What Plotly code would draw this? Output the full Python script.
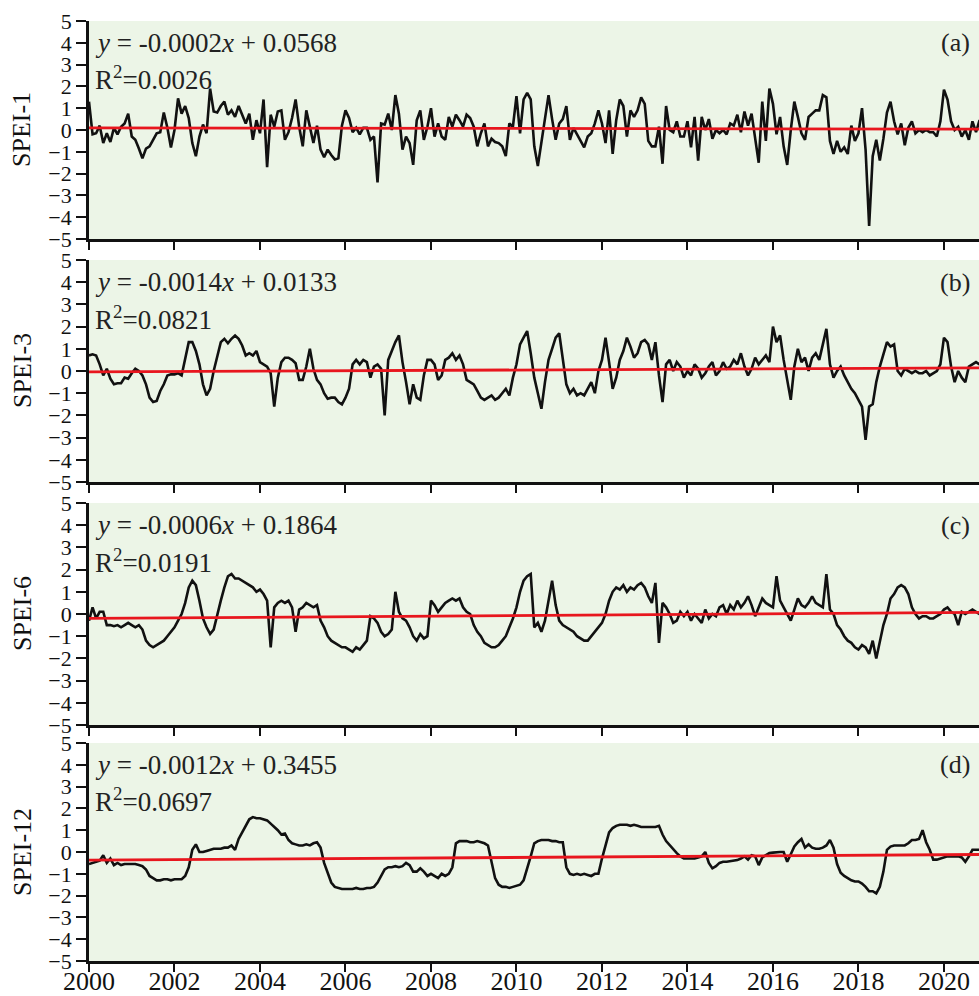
import numpy as np
import plotly.graph_objects as go

# Monthly SPEI series, January 2000 - December 2020
spei1 = [
    1.3, -0.2, -0.15, 0.2, -0.6, -0.15, -0.55, 0.1, -0.2, 0.15, 0.3, 0.75,
    -0.3, -0.45, -0.85, -1.3, -0.85, -0.75, -0.45, -0.15, -0.1, 0.8, 0.1, -0.8,
    0.0, 1.45, 0.75, 1.1, 0.55, -0.6, -1.2, -0.3, 0.25, -0.15, 1.9, 0.85,
    0.8, 1.1, 1.3, 0.7, 0.9, 0.6, 1.1, 0.7, 0.3, 0.75, -0.45, 0.45,
    -0.15, 1.4, -1.7, 0.7, 0.15, 0.85, 0.9, -0.45, -0.1, 0.55, 1.4, 0.15,
    -0.75, 0.9, 0.15, -0.6, 0.2, -0.9, -1.25, -0.9, -1.15, -1.35, -1.3, 0.2,
    0.9, 0.55, -0.1, 0.1, -0.2, 0.1, 0.1, -0.45, -0.3, -2.4, 0.3, 0.25,
    0.75, 0.0, 1.6, 0.75, -0.9, -0.3, -0.6, -1.6, 0.45, 0.9, -0.45, 0.15,
    1.0, -0.3, 0.3, -0.3, -0.45, 0.6, 0.15, 0.7, 0.45, 0.15, 0.7, 0.55,
    0.15, -0.75, -0.15, 0.3, -0.75, -0.4, -0.55, -0.6, -0.75, -1.2, 0.3, 0.15,
    1.55, -0.15, 1.4, 1.7, 1.4, -0.75, -1.65, -0.5, 0.45, 1.6, 0.5, -0.45,
    0.3, 0.5, 1.1, -0.45, 0.1, -0.2, -0.45, -0.8, -0.3, -0.15, 0.3, 0.9,
    0.3, -0.6, 0.9, -1.1, 0.45, 1.4, 1.1, -0.3, 0.9, 0.6, 0.9, 1.5,
    1.2, -0.5, -0.75, -0.75, 0.15, -1.55, 1.1, 0.0, -0.1, 0.4, -0.3, -0.3,
    0.4, -0.8, 0.6, -1.4, 0.6, 0.0, 0.5, -0.4, 0.0, -0.15, 0.0, -0.2,
    0.3, 0.2, 0.7, -0.1, 0.85, 0.2, 0.75, -0.45, -1.5, 1.3, -0.5, 1.9,
    1.2, -0.2, 0.6, -0.75, -1.6, 0.0, 1.3, 0.6, -0.15, -0.45, 0.6, 0.75,
    0.9, 0.9, 1.6, 1.5, -0.5, -1.1, -0.5, -1.0, -0.8, -1.1, 0.2, -0.5,
    -0.15, 1.0, -0.9, -4.4, -1.2, -0.45, -1.4, -0.4, 0.8, 1.3, 0.4, -0.2,
    0.3, -0.7, 0.1, 0.4, -0.15, 0.0, -0.1, 0.0, -0.1, -0.1, -0.3, 0.4,
    1.85, 1.4, 0.4, 0.0, 0.15, -0.3, 0.0, -0.45, 0.4, -0.1, 0.45, 0.2,
]

spei3 = [
    0.7, 0.75, 0.7, 0.3, -0.2, 0.1, -0.35, -0.6, -0.55, -0.55, -0.3, -0.35,
    -0.1, 0.1, 0.0, -0.2, -0.6, -1.2, -1.4, -1.35, -0.9, -0.6, -0.2, -0.15,
    -0.15, -0.1, -0.2, 0.5, 1.3, 1.3, 0.9, 0.3, -0.6, -1.1, -0.8, 0.0,
    0.6, 1.3, 1.45, 1.25, 1.45, 1.6, 1.45, 1.15, 0.7, 0.8, 0.7, 0.9,
    0.4, 0.3, 0.2, -0.1, -1.6, -0.3, 0.4, 0.6, 0.6, 0.5, 0.35, -0.4,
    -0.4, 0.2, 1.0, 0.1, -0.4, -0.6, -1.0, -1.25, -1.2, -1.2, -1.4, -1.5,
    -1.2, -0.8, 0.3, 0.5, 0.3, 0.5, 0.4, -0.3, 0.2, 0.3, 0.1, -2.0,
    0.5, 0.9, 1.3, 1.6, 0.4, -0.5, -1.5, -0.6, -1.2, -1.3, -0.2, 0.5,
    0.5, 0.3, -0.4, -0.2, 0.5, 0.6, 0.8, 0.5, 0.7, 0.3, -0.4, -0.5,
    -0.6, -0.9, -1.2, -1.3, -1.2, -1.1, -1.3, -1.2, -1.0, -0.8, -1.1, -0.3,
    0.3, 1.2, 1.5, 1.8, 0.8, -0.3, -1.0, -1.7, -0.5, 0.5, 1.0, 1.5,
    1.7, 0.5, -0.6, -1.0, -0.8, -1.1, -1.0, -1.1, -0.8, -0.5, -1.0, 0.0,
    0.5, 1.5, 0.4, -0.8, -0.3, 0.5, 0.9, 1.5, 1.1, 0.6, 0.8, 1.3,
    1.4, 1.2, 0.5, 1.3, -0.2, -1.4, 0.3, 0.5, 0.0, 0.4, 0.2, -0.3,
    0.0, -0.2, 0.3, 0.1, -0.3, -0.1, 0.2, 0.4, -0.2, 0.0, 0.4, 0.1,
    0.2, 0.5, 0.3, 0.8, 0.2, -0.2, 0.1, 0.6, 0.3, 0.5, 0.7, 0.4,
    2.0, 1.3, 1.6, 0.5, -0.5, -1.3, 0.2, 1.0, 0.4, 0.6, 0.0, 0.6,
    0.8, 0.5, 1.2, 1.9, 0.3, -0.3, 0.0, 0.2, -0.2, -0.5, -0.8, -1.0,
    -1.3, -1.6, -3.1, -1.6, -1.5, -0.5, 0.2, 0.8, 1.3, 1.1, 1.2, 0.0,
    -0.2, 0.1, 0.0, -0.1, 0.0, -0.1, -0.1, 0.0, -0.2, -0.1, 0.0, 0.3,
    1.5, 1.3, 0.2, -0.5, 0.0, -0.3, -0.5, 0.2, 0.3, 0.4, 0.3, 0.2,
]

spei6 = [
    -0.3, 0.3, -0.2, 0.1, 0.1, -0.5, -0.5, -0.55, -0.5, -0.6, -0.5, -0.4,
    -0.5, -0.6, -0.5, -0.7, -1.2, -1.4, -1.5, -1.4, -1.3, -1.2, -1.0, -0.8,
    -0.6, -0.3, 0.0, 0.5, 1.2, 1.5, 1.3, 0.6, -0.2, -0.6, -0.9, -0.7,
    0.0, 0.6, 1.2, 1.7, 1.8, 1.6, 1.6, 1.5, 1.4, 1.3, 1.2, 1.0,
    1.1, 0.9, 0.6, -1.5, 0.3, 0.5, 0.6, 0.5, 0.6, 0.3, -0.8, 0.2,
    0.3, 0.5, 0.4, 0.3, 0.4, -0.3, -0.6, -1.0, -1.2, -1.3, -1.4, -1.5,
    -1.5, -1.6, -1.7, -1.5, -1.6, -1.4, -1.2, -0.1, -0.2, -0.4, -0.8, -1.0,
    -0.9, -0.7, 1.0, 0.1, -0.2, -0.3, -0.6, -1.0, -1.2, -0.9, -1.1, -1.0,
    0.6, 0.4, 0.1, 0.3, 0.5, 0.6, 0.7, 0.6, 0.7, 0.3, 0.1, 0.0,
    -0.5, -0.8, -1.0, -1.3, -1.4, -1.5, -1.5, -1.4, -1.2, -1.0, -0.6, -0.2,
    0.3, 1.0, 1.5, 1.7, 1.8, -0.6, -0.4, -0.8, -0.3, 0.6, 1.5, 0.4,
    -0.3, -0.5, -0.6, -0.7, -0.8, -1.0, -1.1, -1.2, -1.2, -1.0, -0.8, -0.6,
    -0.4, 0.0, 0.6, 1.0, 1.2, 1.1, 1.3, 1.0, 1.2, 1.1, 1.3, 1.4,
    1.2, 0.8, 0.5, 1.4, -1.3, 0.5, 0.3, 0.0, -0.4, -0.3, 0.1, -0.1,
    0.1, -0.3, 0.0, -0.2, -0.4, 0.2, -0.2, 0.0, -0.1, 0.3, 0.4, 0.0,
    0.4, 0.2, 0.6, 0.3, 0.5, 0.8, 0.4, -0.1, 0.3, 0.7, 0.5, 0.4,
    0.3, 1.7, 0.6, 0.3, 0.0, -0.3, 0.2, 0.7, 0.4, 0.3, 0.5, 0.8,
    0.5, 0.4, 0.3, 1.8, 0.2, 0.0, -0.5, -0.7, -1.0, -1.2, -1.3, -1.5,
    -1.6, -1.4, -1.5, -1.8, -1.2, -2.0, -1.3, -0.5, 0.0, 0.7, 0.9, 1.2,
    1.3, 1.2, 0.9, 0.3, 0.0, -0.2, -0.1, -0.1, -0.2, -0.2, -0.1, 0.0,
    0.2, 0.3, 0.1, 0.0, -0.5, 0.1, 0.0, 0.1, 0.2, 0.1, 0.0, 0.1,
]

spei12 = [
    -0.55, -0.5, -0.45, -0.4, -0.15, -0.5, -0.3, -0.6, -0.5, -0.6, -0.55, -0.55,
    -0.55, -0.55, -0.6, -0.65, -0.8, -1.1, -1.2, -1.3, -1.3, -1.25, -1.25, -1.3,
    -1.25, -1.25, -1.25, -1.1, -0.7, 0.1, 0.35, 0.0, 0.0, 0.05, 0.1, 0.15,
    0.15, 0.15, 0.2, 0.2, 0.3, 0.1, 0.6, 0.9, 1.2, 1.5, 1.6, 1.55,
    1.55, 1.5, 1.45, 1.3, 1.15, 1.0, 0.8, 0.85, 0.55, 0.4, 0.35, 0.3,
    0.3, 0.35, 0.3, 0.4, 0.45, 0.2, -0.5, -1.0, -1.4, -1.6, -1.65, -1.7,
    -1.7, -1.7, -1.7, -1.65, -1.7, -1.7, -1.65, -1.65, -1.6, -1.4, -1.1, -0.8,
    -0.7, -0.7, -0.65, -0.7, -0.65, -0.5, -0.6, -0.9, -0.9, -0.75, -0.9, -1.1,
    -1.0, -1.1, -1.2, -1.0, -1.1, -1.0, -0.7, 0.4, 0.5, 0.5, 0.5, 0.45,
    0.45, 0.5, 0.45, 0.4, 0.3, -0.4, -1.2, -1.5, -1.6, -1.6, -1.65, -1.6,
    -1.55, -1.5, -1.3, -0.8, -0.2, 0.4, 0.5, 0.55, 0.55, 0.55, 0.5, 0.5,
    0.45, 0.45, -0.7, -1.0, -1.05, -1.0, -1.05, -1.0, -1.05, -1.1, -1.0, -1.0,
    -0.3, 0.3, 0.9, 1.1, 1.2, 1.25, 1.25, 1.25, 1.2, 1.25, 1.2, 1.15,
    1.15, 1.15, 1.15, 1.15, 1.2, 0.8, 0.5, 0.3, 0.1, -0.05, -0.2, -0.3,
    -0.3, -0.3, -0.3, -0.25, -0.2, 0.0, -0.5, -0.75, -0.65, -0.5, -0.45, -0.45,
    -0.42, -0.4, -0.37, -0.3, -0.2, -0.35, -0.15, -0.2, -0.6, -0.25, -0.15, -0.05,
    -0.03, 0.0, 0.0, 0.0, -0.45, -0.1, 0.25, 0.45, 0.6, 0.2, 0.35, 0.2,
    0.15, 0.15, 0.2, 0.3, 0.55, 0.2, -0.55, -0.95, -1.1, -1.2, -1.3, -1.35,
    -1.35, -1.45, -1.6, -1.8, -1.8, -1.9, -1.6, -0.9, 0.1, 0.25, 0.3, 0.3,
    0.3, 0.3, 0.4, 0.55, 0.55, 0.6, 1.0, 0.45, 0.1, -0.35, -0.35, -0.3,
    -0.25, -0.2, -0.2, -0.2, -0.2, -0.25, -0.45, -0.2, 0.1, 0.1, 0.1, 0.05,
]

series = [spei1, spei3, spei6, spei12]
axis_titles = ["SPEI-1", "SPEI-3", "SPEI-6", "SPEI-12"]
panel_tags = ["(a)", "(b)", "(c)", "(d)"]
equations = [
    "<i>y</i> = -0.0002<i>x</i> + 0.0568",
    "<i>y</i> = -0.0014<i>x</i> + 0.0133",
    "<i>y</i> = -0.0006<i>x</i> + 0.1864",
    "<i>y</i> = -0.0012<i>x</i> + 0.3455",
]
r_squared = ["0.0026", "0.0821", "0.0191", "0.0697"]
year_ticks = list(range(2000, 2022, 2))

START_YEAR = 2000
x_months = START_YEAR + np.arange(len(spei1)) / 12.0
x_range = [2000, 2020.82]

FONT = "Times New Roman, Liberation Serif, serif"
INK = "#111111"
BG = "rgb(236,245,231)"
W, H = 979, 996
M_L, M_R, M_T, M_B = 89, 0, 21, 35
plot_h = H - M_T - M_B

# panel top/bottom edges in pixels
panel_px = [(21, 239), (260, 482), (503, 725), (743, 961)]
domains = [[(H - M_B - b) / plot_h, (H - M_B - t) / plot_h] for t, b in panel_px]

fig = go.Figure()
layout = dict(
    width=W, height=H, autosize=False,
    margin=dict(l=M_L, r=M_R, t=M_T, b=M_B, autoexpand=False),
    paper_bgcolor="white",
    plot_bgcolor=BG,
    showlegend=False,
    font=dict(family=FONT, color=INK),
)
annotations = []

for i, (vals, title, tag, eq, r2) in enumerate(
        zip(series, axis_titles, panel_tags, equations, r_squared)):
    n = i + 1
    xa, ya = f"x{n}" if n > 1 else "x", f"y{n}" if n > 1 else "y"
    y = np.array(vals)

    fig.add_trace(go.Scatter(
        x=x_months, y=y, mode="lines", xaxis=xa, yaxis=ya,
        line=dict(color=INK, width=2.6), hoverinfo="skip"))

    slope, intercept = np.polyfit(x_months, y, 1)
    xt_line = np.array(x_range)
    fig.add_trace(go.Scatter(
        x=xt_line, y=slope * xt_line + intercept, mode="lines",
        xaxis=xa, yaxis=ya, line=dict(color="#e8161e", width=2.8),
        hoverinfo="skip"))

    xkey = "xaxis" if n == 1 else f"xaxis{n}"
    ykey = "yaxis" if n == 1 else f"yaxis{n}"
    layout[xkey] = dict(
        domain=[0, 1], anchor=ya, range=x_range, automargin=False,
        tickmode="array", tickvals=year_ticks,
        ticktext=[str(v) for v in year_ticks],
        showticklabels=(n == 4), ticklabelstandoff=-13,
        ticks="outside", ticklen=8, tickwidth=2.4, tickcolor=INK,
        showline=True, linewidth=2.8, linecolor=INK,
        showgrid=False, zeroline=False,
        tickfont=dict(family=FONT, size=26, color=INK),
    )
    # top edge: inward ticks
    layout[f"xaxis{n + 4}"] = dict(
        overlaying=xa, anchor=ya, side="top", range=x_range, automargin=False,
        tickmode="array", tickvals=year_ticks, showticklabels=False,
        ticks="inside", ticklen=8, tickwidth=2.4, tickcolor=INK,
        showline=True, linewidth=2.8, linecolor=INK,
        showgrid=False, zeroline=False,
    )
    layout[ykey] = dict(
        domain=domains[i], anchor=xa, range=[-5, 5], automargin=False,
        tickmode="array", tickvals=list(range(-5, 6)),
        ticks="outside", ticklen=10, tickwidth=2.4, tickcolor=INK,
        showline=True, linewidth=2.8, linecolor=INK,
        showgrid=False, zeroline=False,
        tickfont=dict(family=FONT, size=22, color=INK),
    )
    # right edge: short inward ticks
    layout[f"yaxis{n + 4}"] = dict(
        overlaying=ya, anchor=xa, side="right", range=[-5, 5], automargin=False,
        tickmode="array", tickvals=list(range(-5, 6)), showticklabels=False,
        ticks="inside", ticklen=3, tickwidth=2.4, tickcolor=INK,
        showline=False, showgrid=False, zeroline=False,
    )

    annotations.append(dict(
        text=title, xref="paper", yref="paper",
        x=(22 - M_L) / (W - M_L - M_R), y=(domains[i][0] + domains[i][1]) / 2,
        xanchor="center", yanchor="middle", textangle=-90, showarrow=False,
        font=dict(family=FONT, size=26, color=INK)))
    annotations.append(dict(
        text=eq, xref=f"{xa} domain", yref=ya, x=0.004, y=4.0,
        xanchor="left", yanchor="middle", showarrow=False,
        font=dict(family=FONT, size=27, color="#222222")))
    annotations.append(dict(
        text="R<sup>2</sup>=" + r2, xref=f"{xa} domain", yref=ya, x=0.004, y=2.4,
        xanchor="left", yanchor="middle", showarrow=False,
        font=dict(family=FONT, size=27, color="#222222")))
    annotations.append(dict(
        text=tag, xref=f"{xa} domain", yref=ya, x=0.992, y=4.0,
        xanchor="right", yanchor="middle", showarrow=False,
        font=dict(family=FONT, size=26, color="#222222")))

layout["annotations"] = annotations
fig.update_layout(**layout)
fig.write_html("out.html")
